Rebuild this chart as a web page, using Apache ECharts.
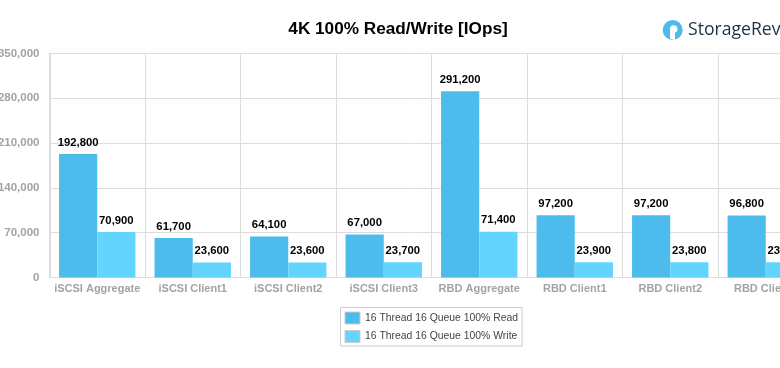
<!DOCTYPE html>
<html><head><meta charset="utf-8">
<style>html,body{margin:0;padding:0;background:#fff}#c{width:780px;height:368px;overflow:hidden}</style>
<script src="https://cdn.jsdelivr.net/npm/echarts@6/dist/echarts.min.js"></script>
</head><body><div id="c"></div>
<script>
const categories=["iSCSI Aggregate","iSCSI Client1","iSCSI Client2","iSCSI Client3","RBD Aggregate","RBD Client1","RBD Client2","RBD Client3"];
const readValues=[192800,61700,64100,67000,291200,97200,97200,96800];
const writeValues=[70900,23600,23600,23700,71400,23900,23800,23800];
const seriesNames=["16 Thread 16 Queue 100% Read","16 Thread 16 Queue 100% Write"];
const titleText="4K 100% Read/Write [IOps]";
const fontFamily='"Liberation Sans",Arial,sans-serif';
const fmt=v=>v.toLocaleString('en-US');
const chart=echarts.init(document.getElementById('c'),null,{renderer:'canvas'});
const mk=(name,data,color)=>({name,type:'bar',data,barGap:0,barCategoryGap:'20%',
  itemStyle:{color},
  label:{show:true,position:'top',distance:6,color:'#000',fontFamily,fontSize:11.3,fontWeight:'bold',formatter:p=>fmt(p.value)}});
chart.setOption({
  animation:false,backgroundColor:'#fff',
  title:{text:titleText,left:393,top:16,textAlign:'center',textStyle:{fontFamily,fontSize:17.2,fontWeight:'bold',color:'#000'}},
  grid:{left:49.5,top:53.5,width:764,height:224,containLabel:false,outerBoundsMode:'none'},
  legend:{orient:'vertical',left:340.5,top:307.5,padding:[4,4,3,4],itemGap:5.5,itemWidth:15,itemHeight:12,icon:'rect',borderColor:'#ccc',borderWidth:1,backgroundColor:'#fff',
    textStyle:{fontFamily,fontSize:10.4,color:'#444'},data:seriesNames.map(n=>({name:n,itemStyle:{borderColor:'#ccc',borderWidth:1}}))},
  xAxis:{type:'category',data:categories,axisTick:{show:false},
    axisLine:{show:true,lineStyle:{color:'#ddd',width:1}},
    splitLine:{show:true,lineStyle:{color:'#ddd',width:1}},
    axisLabel:{interval:0,margin:6,color:'#a3a3a3',fontFamily,fontSize:11,fontWeight:'bold'}},
  yAxis:{type:'value',min:0,max:350000,interval:70000,
    axisLine:{show:true,lineStyle:{color:'#ddd',width:2}},axisTick:{show:false},
    splitLine:{show:true,lineStyle:{color:'#ddd',width:1}},
    axisLabel:{margin:10,color:'#a3a3a3',fontFamily,fontSize:11.5,fontWeight:'bold',formatter:v=>fmt(v)}},
  series:[mk(seriesNames[0],readValues,'#4dbbec'),mk(seriesNames[1],writeValues,'#62d4fe')],
  graphic:[
    {type:'circle',shape:{cx:672.7,cy:30,r:10},style:{fill:'#4dbbec'}},
    {type:'circle',shape:{cx:673.7,cy:29,r:3.8},style:{fill:'#fff'}},
    {type:'polygon',shape:{points:[[670,30],[675,32],[675,40.5],[670,38.5]]},style:{fill:'#fff'}},
    {type:'text',left:688,top:21,style:{text:'StorageReview',fontFamily:'"Open Sans",Lato,sans-serif',fontSize:17.6,fontWeight:500,fill:'#1d3240'}}
  ]
});
</script></body></html>
